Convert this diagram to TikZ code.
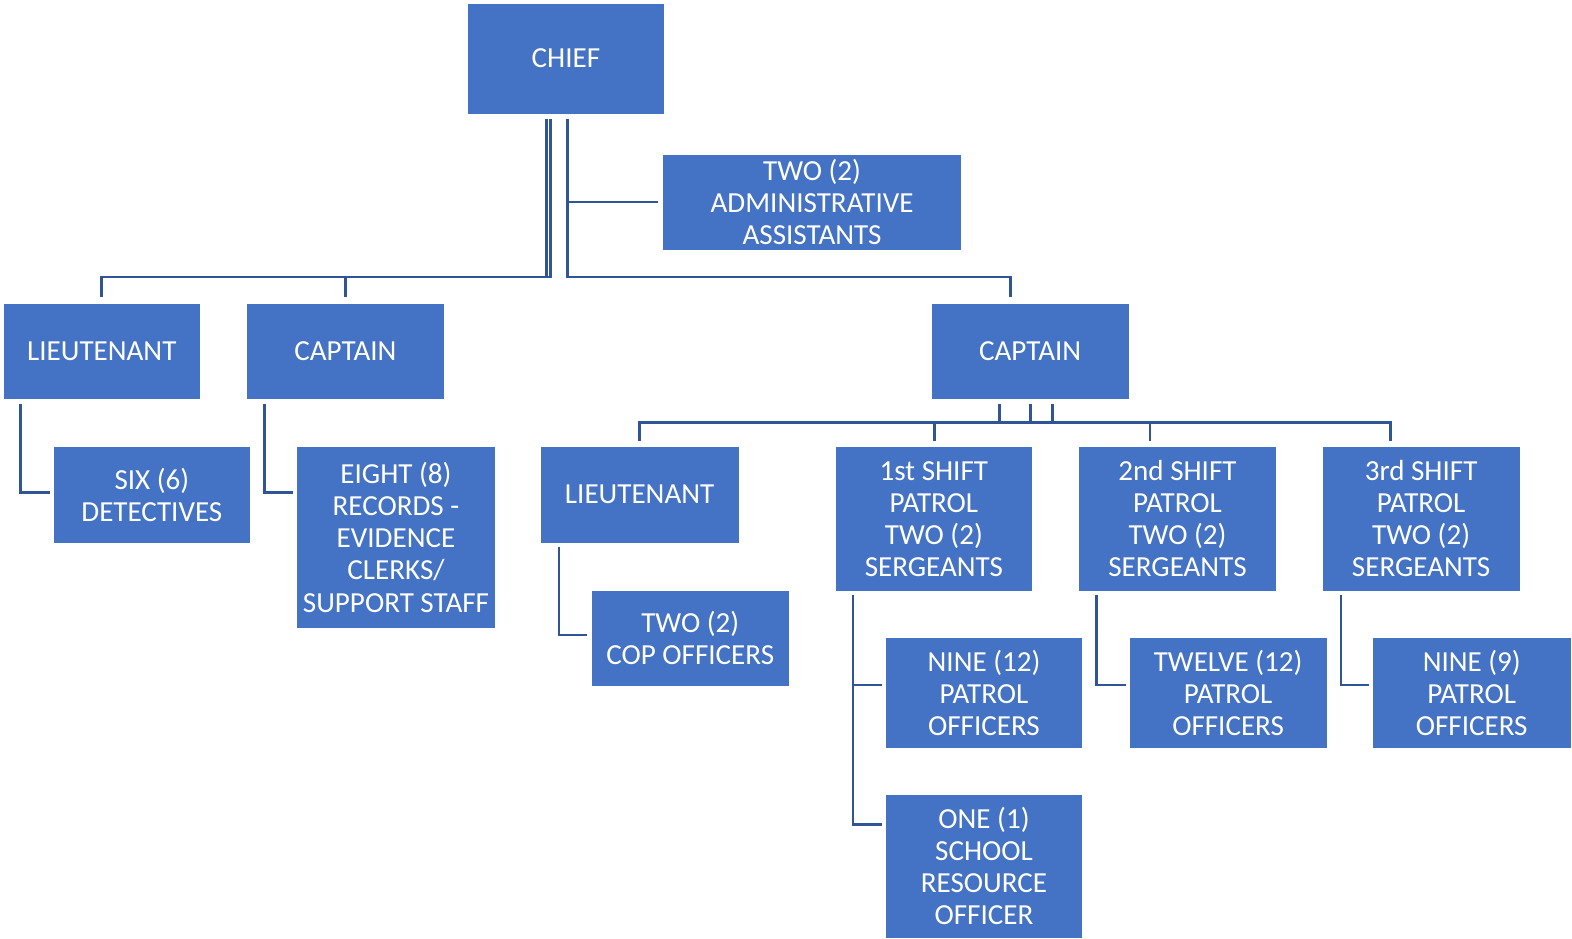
\documentclass[tikz,border=0pt]{standalone}
\usepackage{fontspec}
\setmainfont{Carlito}
\usetikzlibrary{calc}
\definecolor{boxblue}{HTML}{4472C4}
\definecolor{lineblue}{HTML}{2F5597}
\tikzset{
  box/.style={fill=boxblue, draw=white, line width=0.6pt, text=white, align=center,
    inner sep=0pt, font=\fontsize{29}{32}\selectfont},
  link/.style={draw=lineblue, line width=2.6pt}
}
\begin{document}
\begin{tikzpicture}[x=1pt,y=-1pt]
\useasboundingbox (0,0) rectangle (1568,936);
% nodes
\node[box, minimum width=197pt, minimum height=111pt] (chief) at (564.5,58.5) {CHIEF};
\node[box, minimum width=298pt, minimum height=96pt] (admin) at (810,201.5) {TWO (2)\\ADMINISTRATIVE\\ASSISTANTS};
\node[box, minimum width=197pt, minimum height=96pt] (lt1) at (101.5,350.5) {LIEUTENANT};
\node[box, minimum width=197pt, minimum height=96pt] (cap1) at (344.5,350.5) {CAPTAIN};
\node[box, minimum width=197pt, minimum height=96pt] (cap2) at (1027.5,350.5) {CAPTAIN};
\node[box, minimum width=197pt, minimum height=96pt] (det) at (151.5,493.5) {SIX (6)\\DETECTIVES};
\node[box, minimum width=198pt, minimum height=181pt] (eight) at (395,536) {EIGHT (8)\\RECORDS -\\EVIDENCE\\CLERKS/\\SUPPORT STAFF};
\node[box, minimum width=198pt, minimum height=96pt] (lt2) at (638,493.5) {LIEUTENANT};
\node[box, minimum width=197pt, minimum height=144pt] (s1) at (931.5,517.5) {1st SHIFT\\PATROL\\TWO (2)\\SERGEANTS};
\node[box, minimum width=197pt, minimum height=144pt] (s2) at (1174.5,517.5) {2nd SHIFT\\PATROL\\TWO (2)\\SERGEANTS};
\node[box, minimum width=197pt, minimum height=144pt] (s3) at (1417.5,517.5) {3rd SHIFT\\PATROL\\TWO (2)\\SERGEANTS};
\node[box, minimum width=197pt, minimum height=96pt] (cop) at (688.5,636.5) {TWO (2)\\COP OFFICERS};
\node[box, minimum width=197pt, minimum height=111pt] (n12) at (981.5,691) {NINE (12)\\PATROL\\OFFICERS};
\node[box, minimum width=197pt, minimum height=143pt] (one) at (981.5,864) {ONE (1)\\SCHOOL\\RESOURCE\\OFFICER};
\node[box, minimum width=198pt, minimum height=111pt] (t12) at (1225,691) {TWELVE (12)\\PATROL\\OFFICERS};
\node[box, minimum width=198pt, minimum height=111pt] (n9) at (1468,691) {NINE (9)\\PATROL\\OFFICERS};
% connector start points
\coordinate (cL) at ($(chief.south)+(-19.5,4)$);
\coordinate (cM) at ($(chief.south)+(-15.5,4)$);
\coordinate (cR) at ($(chief.south)+(1.5,4)$);
% chief connectors
\draw[link] (cL) |- ($(lt1.north)+(0,-26)$) -- ($(lt1.north)+(0,-6)$);
\draw[link] (cM) |- ($(cap1.north)+(0,-26)$) -- ($(cap1.north)+(0,-6)$);
\draw[link] (cR) |- ($(cap2.north)+(-19.5,-26)$) -- ($(cap2.north)+(-19.5,-6)$);
\draw[link] (cR |- admin.west) -- ($(admin.west)+(-4,0)$);
% left side
\draw[link] ($(lt1.south west)+(18,4)$) |- ($(det.west)+(-3,-2)$);
\draw[link] ($(cap1.south west)+(18,4)$) |- ($(eight.north west)+(-3,46)$);
% right captain bus
\draw[link] ($(cap2.south)+(-30.5,4)$) |- ($(lt2.north)+(0,-24)$) -- ($(lt2.north)+(0,-5)$);
\draw[link] ($(cap2.south)+(0.5,4)$) |- ($(s1.north)+(0.5,-24)$) -- ($(s1.north)+(0.5,-5)$);
\draw[link] ($(cap2.south)+(0.5,4)$) |- ($(s2.north)+(-27.5,-24)$) -- ($(s2.north)+(-27.5,-5)$);
\draw[link] ($(cap2.south)+(22.5,4)$) |- ($(s3.north)+(-30.5,-24)$) -- ($(s3.north)+(-30.5,-5)$);
% lower connectors
\draw[link] ($(lt2.south west)+(19,4)$) |- ($(cop.west)+(-4,-3)$);
\draw[link] ($(s1.south west)+(18,4)$) |- ($(n12.north west)+(-3,48)$);
\draw[link] ($(s1.south west)+(18,4)$) |- ($(one.north west)+(-3,30)$);
\draw[link] ($(s2.south west)+(18,4)$) |- ($(t12.north west)+(-3,48)$);
\draw[link] ($(s3.south west)+(19,4)$) |- ($(n9.north west)+(-3,48)$);
\end{tikzpicture}
\end{document}
